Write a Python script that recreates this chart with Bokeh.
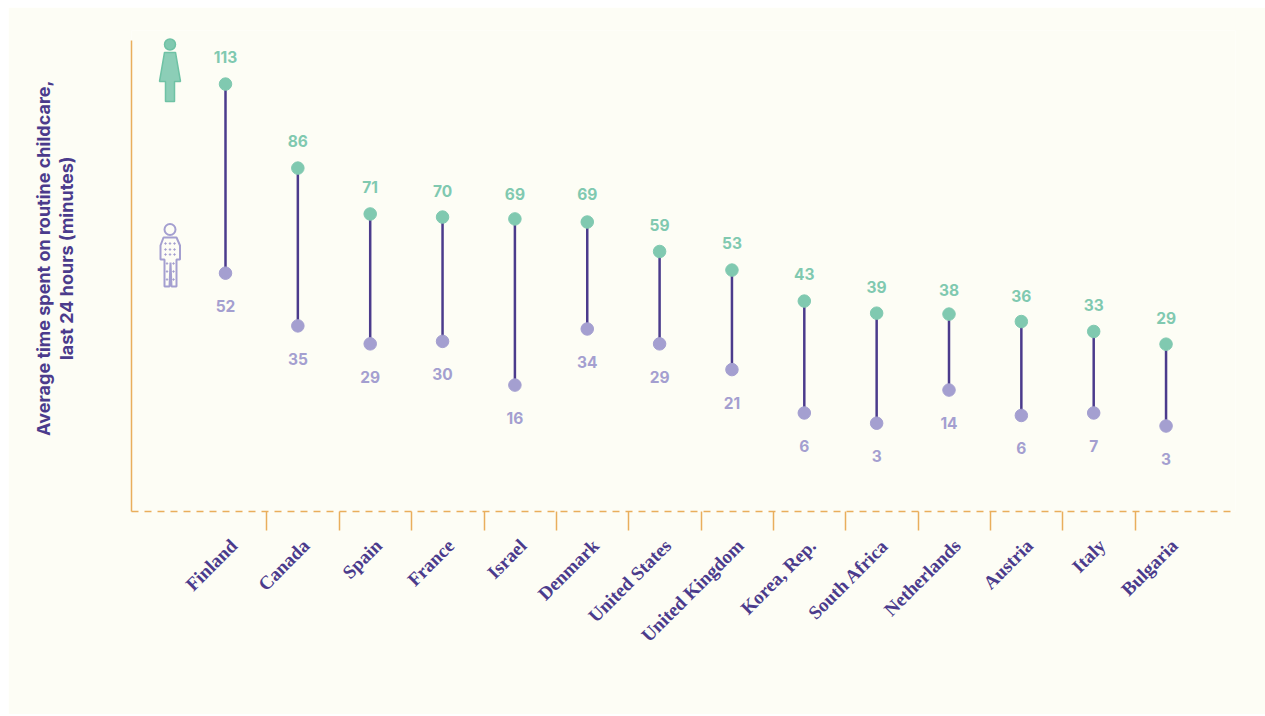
from bokeh.plotting import figure
from bokeh.embed import file_html
from bokeh.resources import INLINE
from bokeh.models import Range1d, LinearAxis, FixedTicker, ColumnDataSource
from bokeh.core.properties import value

countries = ["Finland","Canada","Spain","France","Israel","Denmark","United States","United Kingdom","Korea, Rep.","South Africa","Netherlands","Austria","Italy","Bulgaria"]
women_labels = [113,86,71,70,69,69,59,53,43,39,38,36,33,29]
men_labels = [52,35,29,30,16,34,29,21,6,3,14,6,7,3]
women = [113.2,86.1,71.3,70.3,69.7,68.7,59.2,53.2,43.2,39.3,39.0,36.6,33.4,29.3]
men = [52.2,35.2,29.4,30.2,16.1,34.2,29.4,21.1,7.1,3.8,14.5,6.3,7.1,2.9]

GREEN="#80c9b0"; LILAC="#a49fd0"; DARK="#4b3b8c"; ORANGE="#e9ae5c"; BG="#fdfdf5"
SANS="Inter"

W,H=1257,707
# page geometry: figure starts at (8,7); frame spans x 131..1235, y 30..511; y axis stops at 40
def px(x): return (x-225)/72.35
def py(y): return (434.5-y)/3.1
x0=px(131); x1=px(1235)
y_top=py(30); y_bot=py(511)
DELTA=0.115  # country labels sit slightly right of their category

p=figure(width=W,height=H,output_backend="svg",toolbar_location=None,margin=(7,0,0,8),
         x_range=Range1d(x0,x1),y_range=Range1d(y_bot,y_top),
         background_fill_color=BG,border_fill_color=BG,outline_line_color=None,
         min_border_left=123,min_border_right=30,min_border_top=23,min_border_bottom=203,
         x_axis_type=None,y_axis_type=None)
p.grid.visible=False
p.extra_x_ranges={"lab":Range1d(x0-DELTA,x1-DELTA)}

# left axis line
ya=LinearAxis(ticker=FixedTicker(ticks=[]),axis_line_color=ORANGE,axis_line_width=1.5,bounds=(y_bot,py(40)),
  major_tick_line_color=None,minor_tick_line_color=None)
p.add_layout(ya,"left")
# axis title; leading no-break spaces lift the centred lines along the axis
PAD="\u00a0"*6
yt=LinearAxis(ticker=FixedTicker(ticks=[]),axis_line_color=None,
  major_tick_line_color=None,minor_tick_line_color=None,
  axis_label=PAD+"Average time spent on routine childcare,\n"+PAD+"last 24 hours (minutes)",
  axis_label_text_font=SANS,axis_label_text_font_style="bold",axis_label_text_font_size="18px",
  axis_label_text_line_height=1.05,
  axis_label_text_color=DARK,axis_label_standoff=55,axis_label_text_align="center")
p.add_layout(yt,"left")

# bottom axis: dashed line, minor ticks between categories, country labels
xa=LinearAxis(x_range_name="lab",
  ticker=FixedTicker(ticks=list(range(14)),minor_ticks=[i+0.573-DELTA for i in range(13)]),
  axis_line_color=ORANGE,axis_line_width=1.5,axis_line_dash="7 6",
  major_tick_line_color=None,major_tick_in=0,major_tick_out=0,
  minor_tick_line_color=ORANGE,minor_tick_line_width=1.5,minor_tick_in=0,minor_tick_out=19,
  major_label_overrides={i:c for i,c in enumerate(countries)},
  major_label_orientation=0.785,major_label_text_font="Liberation Serif",major_label_text_font_style="bold",
  major_label_text_font_size="19px",major_label_text_color=DARK,major_label_standoff=12)
p.add_layout(xa,"below")

src=ColumnDataSource(dict(x=list(range(14)),w=women,m=men,wv=women_labels,
    wl=[str(v) for v in women_labels],ml=[str(v) for v in men_labels]))
p.segment("x","m","x","w",source=src,line_color=DARK,line_width=2.5)
p.scatter("x","w",source=src,size=12.5,color=GREEN)
p.scatter("x","m",source=src,size=12.5,color=LILAC)
p.text("x","wv",text="wl",source=src,y_offset=-27.5,text_align="center",text_baseline="middle",
       text_color=GREEN,text_font=value(SANS),text_font_style="bold",text_font_size="15.5px")
p.text("x","m",text="ml",source=src,y_offset=33,text_align="center",text_baseline="middle",
       text_color=LILAC,text_font=value(SANS),text_font_style="bold",text_font_size="15.5px")

# woman icon (decorative)
wx=[169.5,175,180,174,174,165,165,159,164]; wy=[52,52,81,81,101,101,81,81,52]
p.patch([px(a) for a in wx],[py(a) for a in wy],fill_color=GREEN,fill_alpha=0.9,line_color="#6fc2a5",line_width=1.5)
p.scatter([px(169.5)],[py(44)],size=11,color=GREEN,line_color="#6fc2a5",line_width=1.5)

# man icon (decorative)
mx=[163,176,179.5,179.5,176,176,171,170,169,164,164,160,160]
my=[237,237,245,259,259,286,286,262,286,286,259,259,245]
p.patch([px(a) for a in mx],[py(a) for a in my],fill_color=BG,line_color=LILAC,line_width=2)
p.scatter([px(169.5)],[py(229)],size=11,fill_color=BG,line_color=LILAC,line_width=2)
dx=[165,169.5,174,165,169.5,174,165,169.5,174,166.5,173,166.5,173,166.5,173]
dy=[243,243,243,249,249,249,254,254,254,263,263,271,271,279,279]
p.scatter([px(a) for a in dx],[py(a) for a in dy],size=1.5,color=LILAC)

open("out.html","w").write(file_html(p,INLINE))
